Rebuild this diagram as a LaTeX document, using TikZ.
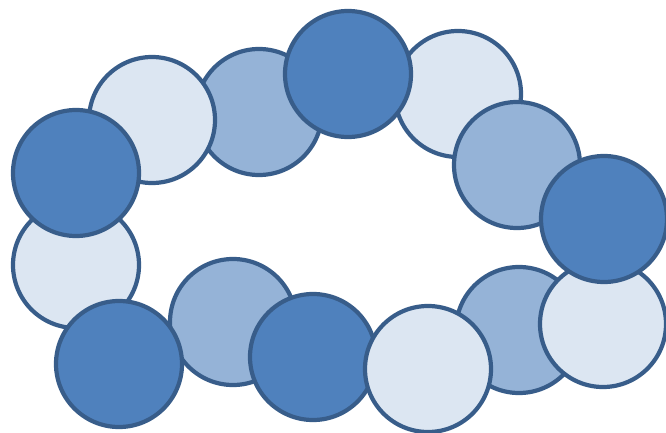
\documentclass[tikz,border=0pt]{standalone}
\usepackage{xcolor}
\definecolor{beaddark}{HTML}{4F81BD}
\definecolor{beadmid}{HTML}{95B3D7}
\definecolor{beadlight}{HTML}{DCE6F2}
\definecolor{beadline}{HTML}{385D8A}
\begin{document}
\begin{tikzpicture}[
  x=1pt,y=-1pt,  bead/.style={circle,draw=beadline,line width=4.2pt,minimum size=126pt,inner sep=0pt},  dvertex/.style={bead,fill=beaddark},  mvertex/.style={bead,fill=beadmid},  lvertex/.style={bead,fill=beadlight}
]
  \useasboundingbox (0,0) rectangle (666,433);
  \node[mvertex] (v2) at (259,112) {};
  \node[lvertex] (v4) at (458,94) {};
  \node[mvertex] (v5) at (517,165) {};
  \node[mvertex] (v8) at (519,330) {};
  \node[mvertex] (v11) at (233,322) {};
  \node[lvertex] (v1) at (152,120) {};
  \node[lvertex] (v13) at (76,265) {};
  \node[lvertex] (v7) at (603,324) {};
  \node[dvertex] (v0) at (76,173) {};
  \node[dvertex] (v3) at (348,74) {};
  \node[dvertex] (v6) at (604,219) {};
  \node[dvertex] (v12) at (119,364) {};
  \node[dvertex] (v10) at (313,357) {};
  \node[lvertex] (v9) at (428,369) {};
\end{tikzpicture}
\end{document}
